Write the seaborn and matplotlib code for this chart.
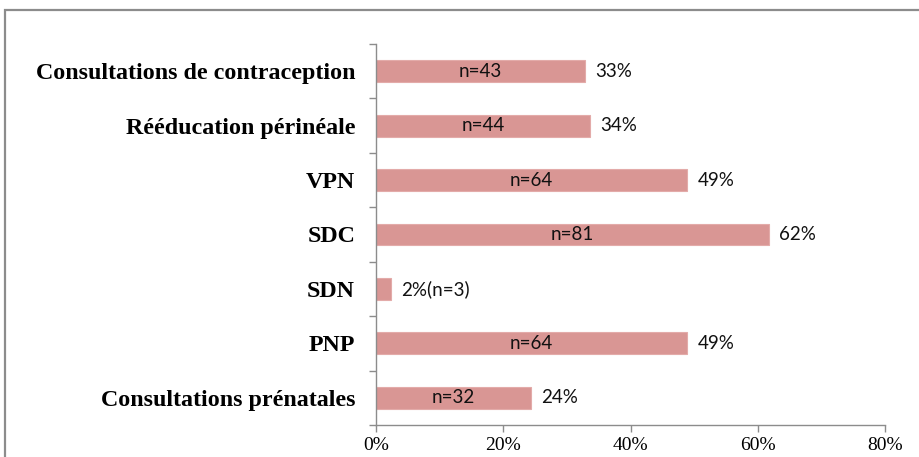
import pandas as pd
import matplotlib.pyplot as plt
import matplotlib.patches as mpatches
from matplotlib.ticker import FixedLocator, PercentFormatter
import seaborn as sns

# data (bar lengths in %, n out of 131)
categories = ["Consultations de contraception", "Rééducation périnéale", "VPN",
              "SDC", "SDN", "PNP", "Consultations prénatales"]
pct = [32.8, 33.6, 48.9, 61.8, 2.3, 48.9, 24.4]
counts = [43, 44, 64, 81, 3, 64, 32]

df = pd.DataFrame({"cat": categories, "pct": pct, "n": counts})

sns.set_style("white")
fig = plt.figure(figsize=(9.2, 4.57), dpi=100)
ax = fig.add_axes([376 / 920, 1 - 425 / 457, (885 - 376) / 920, (425 - 44) / 457])

sns.barplot(data=df, y="cat", x="pct", orient="h", color="#D99694",
            width=0.4, saturation=1, ax=ax)
for p in ax.patches:
    p.set_edgecolor("#E3ABA9")
    p.set_linewidth(0.8)

ax.set_xlim(0, 80)
ax.set_ylim(6.5, -0.5)
ax.set_xlabel("")
ax.set_ylabel("")
ax.set_xticks([0, 20, 40, 60, 80])
ax.xaxis.set_major_formatter(PercentFormatter(decimals=0))

for s in ["top", "right"]:
    ax.spines[s].set_visible(False)
for s in ["left", "bottom"]:
    ax.spines[s].set_color("#8C8C8C")
    ax.spines[s].set_linewidth(1)

# category labels, ticks between categories like the original
ax.yaxis.set_minor_locator(FixedLocator([i - 0.5 for i in range(len(categories) + 1)]))
ax.tick_params(axis="y", which="major", length=0, pad=15)
ax.tick_params(axis="y", which="minor", left=True, length=5, color="#8C8C8C", width=1)
ax.tick_params(axis="x", bottom=True, length=5, color="#8C8C8C", width=1, pad=4)
for lab in ax.get_yticklabels():
    lab.set_fontfamily("Liberation Serif")
    lab.set_fontweight("bold")
    lab.set_fontsize(17.3)
    lab.set_color("black")
for lab in ax.get_xticklabels():
    lab.set_fontfamily("Liberation Serif")
    lab.set_fontsize(14)
    lab.set_color("black")

# value labels
txt = dict(va="center", family="Lato", fontsize=13.5, color="#111111")
for i, (v, n) in enumerate(zip(pct, counts)):
    if n < 5:
        ax.text(v + 1.6, i, f"{v:.0f}%(n={n})", ha="left", **txt)
    else:
        ax.text(v / 2, i, f"n={n}", ha="center", **txt)
        ax.text(v + 1.6, i, f"{v:.0f}%", ha="left", **txt)

# outer chart frame (cut off on the right and bottom)
fig.patches.append(mpatches.Rectangle((5 / 920, -0.1), 1.2, 1 - 10 / 457 + 0.1,
                                      transform=fig.transFigure, fill=False,
                                      edgecolor="#8C8C8C", linewidth=1.6))

fig.savefig("out.png", dpi=100)
